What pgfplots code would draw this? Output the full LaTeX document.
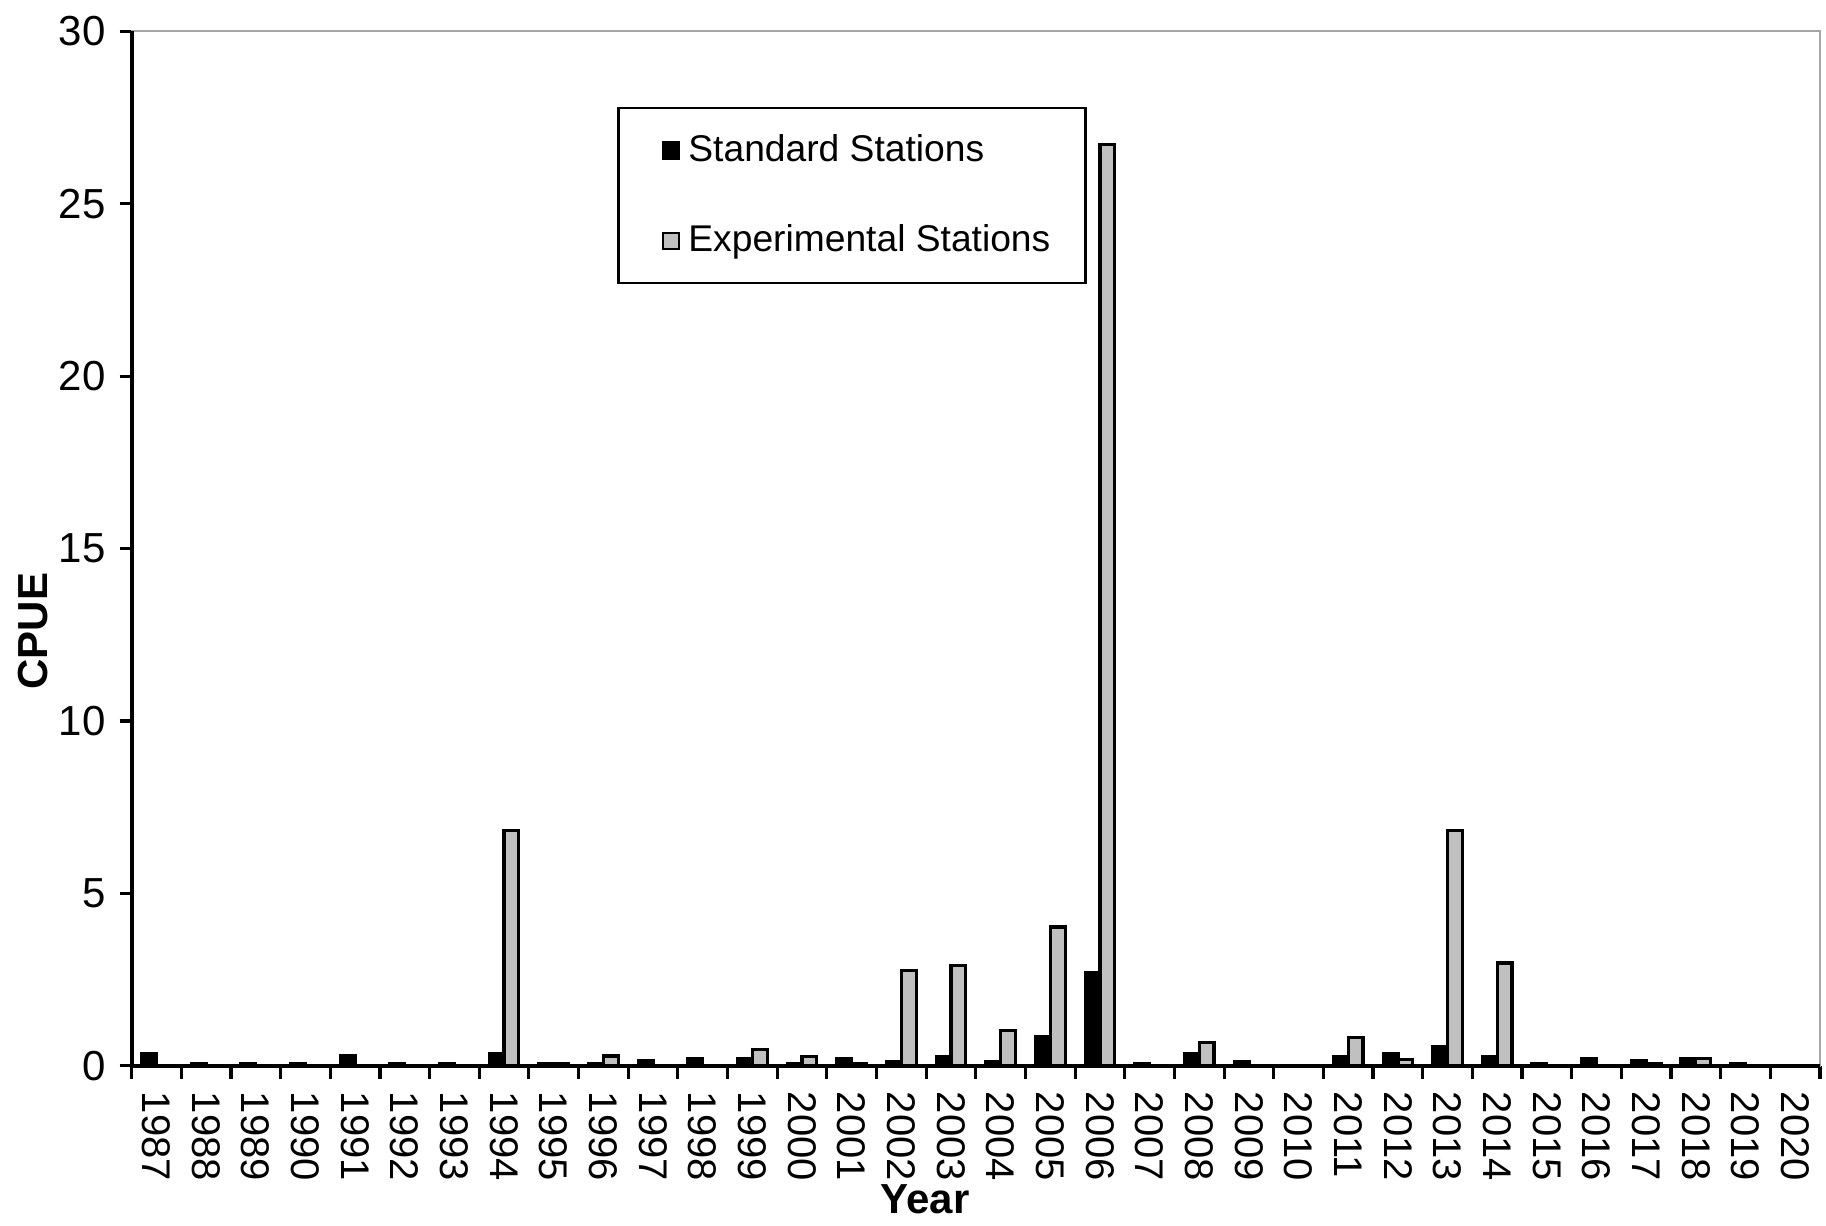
\documentclass[border=0pt]{standalone}
\usepackage{pgfplots}
\pgfplotsset{compat=1.18}
\usepackage{fontspec}
\setmainfont{Liberation Sans}
\definecolor{expgrey}{RGB}{192,192,192}

% CPUE by year: standard and experimental stations
\pgfplotstableread{
idx year std exp
0  1987 0.36 0
1  1988 0.07 0
2  1989 0.07 0
3  1990 0.07 0
4  1991 0.28 0
5  1992 0.07 0
6  1993 0.07 0
7  1994 0.36 6.82
8  1995 0.07 0.07
9  1996 0.07 0.28
10 1997 0.14 0
11 1998 0.20 0
12 1999 0.20 0.46
13 2000 0.07 0.26
14 2001 0.20 0.07
15 2002 0.13 2.76
16 2003 0.27 2.90
17 2004 0.13 1.02
18 2005 0.84 4.02
19 2006 2.70 26.72
20 2007 0.07 0
21 2008 0.34 0.67
22 2009 0.13 0
23 2010 0 0
24 2011 0.27 0.82
25 2012 0.34 0.19
26 2013 0.55 6.82
27 2014 0.27 2.98
28 2015 0.07 0
29 2016 0.21 0
30 2017 0.14 0.07
31 2018 0.21 0.21
32 2019 0.07 0
33 2020 0 0
}\cpue

\begin{document}
\begin{tikzpicture}
\begin{axis}[
    scale only axis,
    width=422pt, height=258.5pt,
    ybar=0pt, bar width=3.7pt,
    xmin=-0.5, xmax=33.5,
    ymin=0, ymax=30,
    ytick={0,5,...,30},
    xtick={0,...,33},
    xticklabels={1987,1988,1989,1990,1991,1992,1993,1994,1995,1996,1997,1998,1999,2000,2001,2002,2003,2004,2005,2006,2007,2008,2009,2010,2011,2012,2013,2014,2015,2016,2017,2018,2019,2020},
    minor xtick={-0.5,0.5,...,33.5},
    xtick pos=bottom, ytick pos=left,
    tick align=outside,
    major tick length=3pt, minor tick length=3.3pt,
    every major x tick/.append style={draw=none},
    every minor x tick/.append style={draw=black, line width=0.8pt},
    ytick style={black, line width=0.8pt},
    axis line style={gray!70, line width=0.5pt},
    /pgf/number format/assume math mode=true,
    tick label style={font=\fontsize{10.5}{12}\selectfont},
    xticklabel style={rotate=-90, anchor=west, font=\fontsize{10}{12}\selectfont},
    xlabel={\textbf{Year}},
    ylabel={\textbf{CPUE}},
    label style={font=\fontsize{10.5}{12}\selectfont},
    xlabel style={at={(rel axis cs:0.47,0)}, anchor=center, yshift=-33.5pt},
    ylabel style={at={([xshift=-24.75pt]rel axis cs:0,0.42)}, anchor=center},
    clip=false,
    legend style={at={(rel axis cs:0.2876,0.927)}, anchor=north west,
        draw=black, line width=0.6pt, font=\fontsize{9.3}{11}\selectfont,
        inner xsep=6.8pt, inner ysep=4.5pt, row sep=10.3pt},
    legend cell align=left,
    legend image code/.code={\path (-4pt,0pt); \draw[#1, line width=0.6pt] (0pt,-2pt) rectangle (4pt,2pt);},
]
\addplot[draw=black, fill=black, line width=0.8pt] table[x=idx, y=std] {\cpue};
\addlegendentry{Standard Stations}
\addplot[draw=black, fill=expgrey, line width=0.8pt] table[x=idx, y=exp] {\cpue};
\addlegendentry{Experimental Stations}
\draw[black, line width=1pt] (rel axis cs:0,1) -- (rel axis cs:0,0) -- (rel axis cs:1,0);
\end{axis}
\pgfresetboundingbox
\path ([shift={(-32.9pt,-39.9pt)}]current axis.south west) rectangle ([shift={(1.5pt,7.85pt)}]current axis.north east);
\end{tikzpicture}
\end{document}
